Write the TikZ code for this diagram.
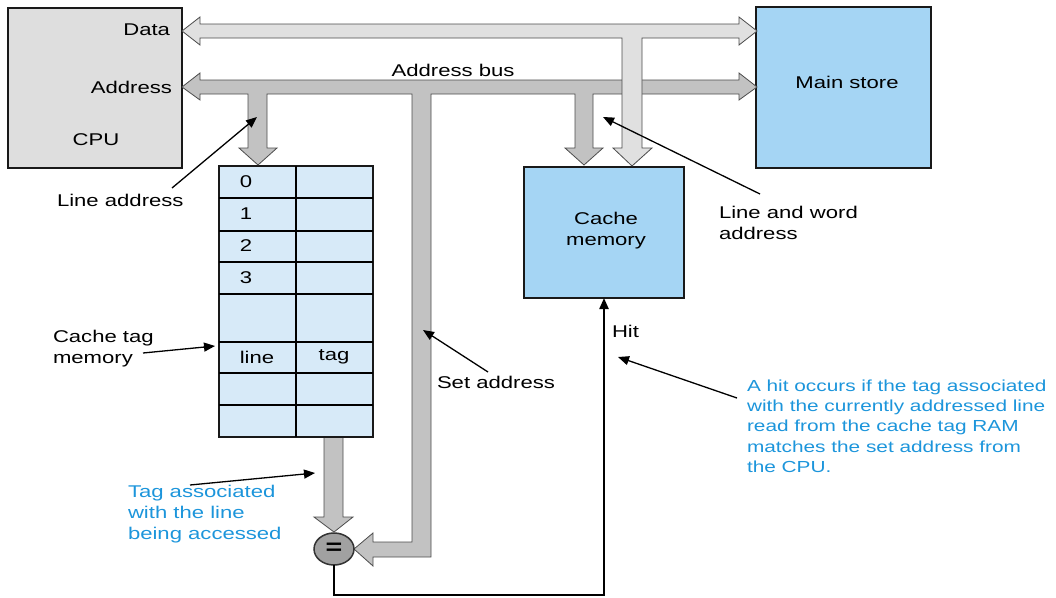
\documentclass[tikz,border=0pt]{standalone}
\usepackage{fontspec}
\setmainfont{Liberation Sans}[FakeStretch=1.3]
\usetikzlibrary{arrows.meta,shapes.geometric}
\definecolor{cpugray}{HTML}{DEDEDE}
\definecolor{storeblue}{HTML}{A5D5F4}
\definecolor{tagblue}{HTML}{D7EAF8}
\definecolor{addrgray}{HTML}{C2C2C2}
\definecolor{datagray}{HTML}{E0E0E0}
\definecolor{noteblue}{HTML}{1C95DB}

\begin{document}
\begin{tikzpicture}[
    x=1pt, y=-1pt,
    >={Triangle[length=11pt,width=9pt]},
    every node/.style={font=\fontsize{17}{21}\selectfont, inner sep=0pt, outer sep=0pt},
    unit/.style={rectangle, draw=black!90, line width=2.5pt, anchor=north west},
    bus/.style={draw=black!70, line width=0.8pt, line join=miter},
    note/.style={align=left, anchor=west},
    pointer/.style={->, line width=1.3pt}
]
  \useasboundingbox (0,0) rectangle (1056,597);

  % units
  \node[unit, fill=cpugray, minimum width=174, minimum height=160] (cpu) at (8,8) {};
  \node[unit, fill=storeblue, minimum width=175, minimum height=161] (store) at (756,7) {};
  \node[unit, fill=storeblue, minimum width=160, minimum height=131] (cache) at (524,167) {};
  \node[unit, fill=tagblue, minimum width=154, minimum height=271, line width=2.2pt] (tagmem) at (219,166) {};
  \foreach \y in {198,231,262,294,342,373,405}
    \draw[line width=2.2pt] (219,\y) -- (373,\y);
  \draw[line width=2.2pt] (296,166) -- (296,437);

  % buses
  \draw[bus, fill=addrgray] (182,87) -- (200,73) -- (200,80) -- (739,80) -- (739,73) -- (757,87)
    -- (739,100) -- (739,94) -- (593,94) -- (593,148) -- (603,148) -- (584,165) -- (565,148)
    -- (575,148) -- (575,94) -- (431,94) -- (431,557) -- (373,557) -- (373,566) -- (354,549)
    -- (373,533) -- (373,542) -- (412,542) -- (412,94) -- (267,94) -- (267,148) -- (277,148)
    -- (258,165) -- (239,148) -- (248,148) -- (248,94) -- (200,94) -- (200,100) -- cycle;
  \draw[bus, fill=datagray] (182,31) -- (200,17) -- (200,24) -- (739,24) -- (739,17) -- (757,31)
    -- (739,45) -- (739,38) -- (642,38) -- (642,148) -- (652,148) -- (632,166) -- (613,148)
    -- (622,148) -- (622,38) -- (200,38) -- (200,45) -- cycle;
  \draw[bus, fill=addrgray] (324,438) -- (324,517) -- (314,517) -- (334,532) -- (353,517)
    -- (343,517) -- (343,438);

  % comparator
  \node[ellipse, draw=black!80, line width=1.5pt, fill=black!37, minimum width=40, minimum height=32]
    (cmp) at (334,549) {\bfseries\fontsize{22}{22}\selectfont =};
  \coordinate (hitbend) at (604,595);
  \draw[->, line width=2.2pt] (cmp.south) |- (hitbend) -- (cache.south);

  % labels
  \node[anchor=east] (datalbl) at (170,30) {Data};
  \node[anchor=east] (addrlbl) at (172,87) {Address};
  \node (cpulbl) at (96,140) {CPU};
  \node (buslbl) at (453,70) {Address bus};
  \node (storelbl) at (847,82) {Main store};
  \node[align=center] (cachelbl) at (606,231) {Cache\\memory};
  \node (l0) at (246,182) {0};
  \node (l1) at (246,214) {1};
  \node (l2) at (246,246) {2};
  \node (l3) at (246,278) {3};
  \node (lline) at (257,357) {line};
  \node (ltag) at (334,357) {tag};
  \node[note] (hitlbl) at (612,331) {Hit};

  % notes
  \node[note] (lineaddr) at (57,200) {Line address};
  \node[note] (lineword) at (719,223) {Line and word\\address};
  \node[note] (tagnote) at (53,349) {Cache tag\\memory};
  \node[note] (setaddr) at (437,382) {Set address};
  \node[note, text=noteblue] (tagline) at (128,514) {Tag associated\\with the line\\being accessed};
  \node[note, text=noteblue, font=\fontsize{16}{20.3}\selectfont] (hitnote) at (747,426)
    {A hit occurs if the tag associated\\with the currently addressed line\\read from the cache tag RAM\\matches the set address from\\the CPU.};

  % pointers
  \coordinate (lineaddr from) at (172,188);  \coordinate (lineaddr to) at (257,117);
  \coordinate (lineword from) at (760,194);  \coordinate (lineword to) at (603,117);
  \coordinate (tagnote from) at (143,353);   \coordinate (tagnote to) at (215,346);
  \coordinate (setaddr from) at (488,372);   \coordinate (setaddr to) at (423,330);
  \coordinate (tagline from) at (190,485);   \coordinate (tagline to) at (315,473);
  \coordinate (hitnote from) at (737,398);   \coordinate (hitnote to) at (618,357);
  \foreach \p in {lineaddr,lineword,tagnote,setaddr,tagline,hitnote}
    \draw[pointer] (\p\space from) -- (\p\space to);
\end{tikzpicture}
\end{document}
